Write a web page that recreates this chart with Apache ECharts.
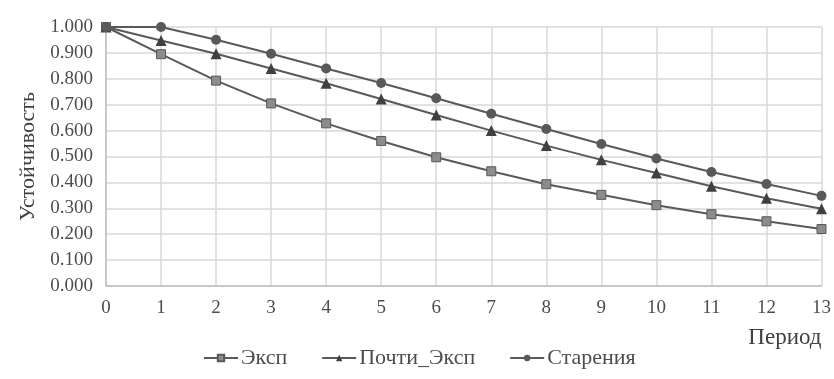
<!DOCTYPE html>
<html>
<head>
    <meta charset="UTF-8">
    <title>Устойчивость</title>
    <script src="https://cdn.jsdelivr.net/npm/echarts@6/dist/echarts.min.js"></script>
    <style>
        html, body { margin: 0; padding: 0; background: #fff; }
        #chart { width: 834px; height: 379px; }
    </style>
</head>
<body>
    <div id="chart"></div>
    <script>
        // периоды и значения
        var periods = [0, 1, 2, 3, 4, 5, 6, 7, 8, 9, 10, 11, 12, 13];
        var eksp = [1.000, 0.895, 0.793, 0.705, 0.628, 0.560, 0.497, 0.443, 0.393, 0.352, 0.312, 0.277, 0.250, 0.220];
        var pochtiEksp = [1.000, 0.948, 0.897, 0.840, 0.783, 0.722, 0.660, 0.600, 0.542, 0.487, 0.436, 0.385, 0.339, 0.298];
        var stareniya = [1.000, 1.000, 0.951, 0.897, 0.840, 0.784, 0.725, 0.665, 0.606, 0.548, 0.492, 0.440, 0.394, 0.348];
        var seriesNames = ['Эксп', 'Почти_Эксп', 'Старения'];

        function pairs(vals) {
            return periods.map(function (p, i) { return [p, vals[i]]; });
        }

        var font = 'Liberation Serif';
        var myChart = echarts.init(document.getElementById('chart'));

        var option = {
            animation: false,
            grid: { left: 106, right: 11, top: 27, bottom: 93 },
            legend: {
                data: seriesNames,
                bottom: 10,
                left: 203,
                padding: 0,
                itemWidth: 34,
                itemHeight: 8,
                itemGap: 34,
                textStyle: { fontFamily: font, fontSize: 22, color: '#4d4d4d', padding: [0, 0, 0, -2] }
            },
            xAxis: {
                type: 'value',
                min: 0, max: 13, interval: 1,
                name: 'Период',
                nameLocation: 'end',
                nameGap: 0,
                nameTextStyle: {
                    fontFamily: font, fontSize: 23, color: '#404040',
                    align: 'right', verticalAlign: 'top', padding: [40, 0, 0, 0]
                },
                axisLine: { lineStyle: { color: '#bfbfbf', width: 1.5 } },
                axisTick: { show: false },
                axisLabel: { fontFamily: font, fontSize: 19, color: '#4d4d4d', margin: 13 },
                splitLine: { show: true, lineStyle: { color: '#d9d9d9', width: 1.5 } }
            },
            yAxis: {
                type: 'value',
                min: 0, max: 1, interval: 0.1,
                name: 'Устойчивость',
                nameLocation: 'middle',
                nameGap: 64,
                nameTextStyle: { fontFamily: font, fontSize: 22, color: '#404040' },
                axisLine: { show: true, lineStyle: { color: '#bfbfbf', width: 1.5 } },
                axisTick: { show: false },
                axisLabel: {
                    fontFamily: font, fontSize: 19, color: '#4d4d4d', margin: 13,
                    formatter: function (v) { return v.toFixed(3); }
                },
                splitLine: { lineStyle: { color: '#d9d9d9', width: 1.5 } }
            },
            series: [{
                name: seriesNames[0],
                type: 'line',
                data: pairs(eksp),
                symbol: 'rect',
                symbolSize: 9,
                itemStyle: { color: '#8c8c8c', borderColor: '#595959', borderWidth: 1 },
                lineStyle: { color: '#595959', width: 2 }
            }, {
                name: seriesNames[1],
                type: 'line',
                data: pairs(pochtiEksp),
                symbol: 'triangle',
                symbolSize: 11,
                itemStyle: { color: '#404040', borderColor: '#404040', borderWidth: 0 },
                lineStyle: { color: '#595959', width: 2 }
            }, {
                name: seriesNames[2],
                type: 'line',
                data: pairs(stareniya),
                symbol: 'circle',
                symbolSize: 10,
                itemStyle: { color: '#595959', borderColor: '#595959', borderWidth: 0 },
                lineStyle: { color: '#595959', width: 2 }
            }]
        };

        myChart.setOption(option);
    </script>
</body>
</html>
